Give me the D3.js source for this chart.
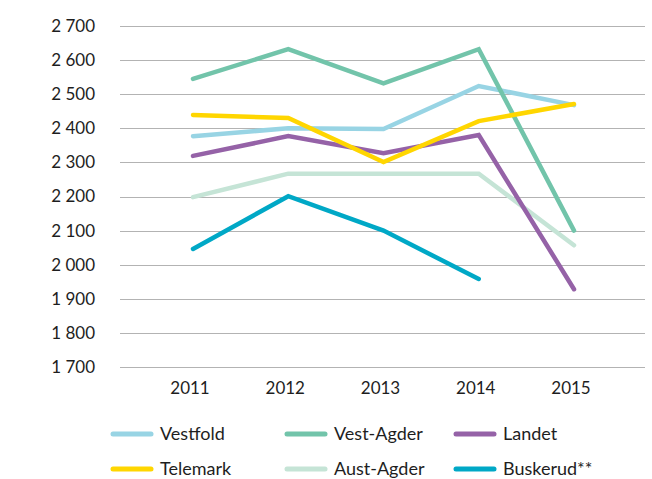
<!DOCTYPE html>
<html lang="no">
<head>
<meta charset="UTF-8">
<title>Linjediagram</title>
<script src="https://cdn.jsdelivr.net/npm/d3@7"></script>
<style>
  body { margin: 0; background: #fff; }
  text { font-family: Lato, "Open Sans", sans-serif; fill: #1e1e1e; }
</style>
</head>
<body>
<div id="chart"></div>
<script>
// data
const years = ["2011", "2012", "2013", "2014", "2015"];
const yTicks = [1700, 1800, 1900, 2000, 2100, 2200, 2300, 2400, 2500, 2600, 2700];

const vestfold  = [2377, 2400, 2398, 2524, 2468];
const vestAgder = [2545, 2632, 2532, 2632, 2100];
const landet    = [2319, 2377, 2327, 2380, 1928];
const telemark  = [2439, 2430, 2301, 2421, 2471];
const austAgder = [2198, 2267, 2267, 2267, 2057];
const buskerud  = [2046, 2201, 2100, 1958, null];

const seriesNames  = ["Vestfold", "Vest-Agder", "Landet", "Telemark", "Aust-Agder", "Buskerud**"];
const seriesValues = [vestfold, vestAgder, landet, telemark, austAgder, buskerud];
const seriesColors = ["#98d4e4", "#72c4aa", "#9562a7", "#ffd600", "#c5e4d6", "#00a8c6"];
// drawing order (bottom to top)
const drawOrder = [4, 0, 1, 2, 5, 3];

const width = 652, height = 479;

const svg = d3.select("#chart").append("svg")
    .attr("width", width)
    .attr("height", height);

const x = d3.scalePoint()
    .domain(years)
    .range([193, 574]);

const y = d3.scaleLinear()
    .domain([1700, 2700])
    .range([367, 26]);

const fmt = d => d3.format(",")(d).replace(",", " ");

// gridlines
svg.append("g")
    .selectAll("line")
    .data(yTicks)
    .join("line")
    .attr("x1", 120)
    .attr("x2", 645)
    .attr("y1", d => Math.round(y(d)) + 0.5)
    .attr("y2", d => Math.round(y(d)) + 0.5)
    .attr("stroke", "#b3b3b3")
    .attr("stroke-width", 1.2);

// y axis labels
svg.append("g")
    .selectAll("text")
    .data(yTicks)
    .join("text")
    .attr("x", 95)
    .attr("y", d => y(d))
    .attr("dy", "0.35em")
    .attr("text-anchor", "end")
    .attr("font-size", 17)
    .text(fmt);

// x axis labels
svg.append("g")
    .selectAll("text")
    .data(years)
    .join("text")
    .attr("x", d => x(d) - 3)
    .attr("y", 394)
    .attr("text-anchor", "middle")
    .attr("font-size", 17)
    .text(d => d);

// lines
const line = d3.line()
    .defined(d => d != null)
    .x((d, i) => x(years[i]))
    .y(d => y(d));

svg.append("g")
    .selectAll("path")
    .data(drawOrder)
    .join("path")
    .attr("d", i => line(seriesValues[i]))
    .attr("fill", "none")
    .attr("stroke", i => seriesColors[i])
    .attr("stroke-width", 4.5)
    .attr("stroke-linecap", "round")
    .attr("stroke-linejoin", "miter");

// legend
const legCols = [113, 287, 456];
const legRows = [434, 469];

const leg = svg.append("g")
    .selectAll("g")
    .data(seriesNames)
    .join("g")
    .attr("transform", (d, i) => `translate(${legCols[i % 3]},${legRows[Math.floor(i / 3)]})`);

leg.append("line")
    .attr("x1", 0)
    .attr("x2", 38)
    .attr("stroke", (d, i) => seriesColors[i])
    .attr("stroke-width", 5)
    .attr("stroke-linecap", "round");

leg.append("text")
    .attr("x", 47)
    .attr("dy", "0.35em")
    .attr("font-size", 18)
    .text(d => d);
</script>
</body>
</html>
